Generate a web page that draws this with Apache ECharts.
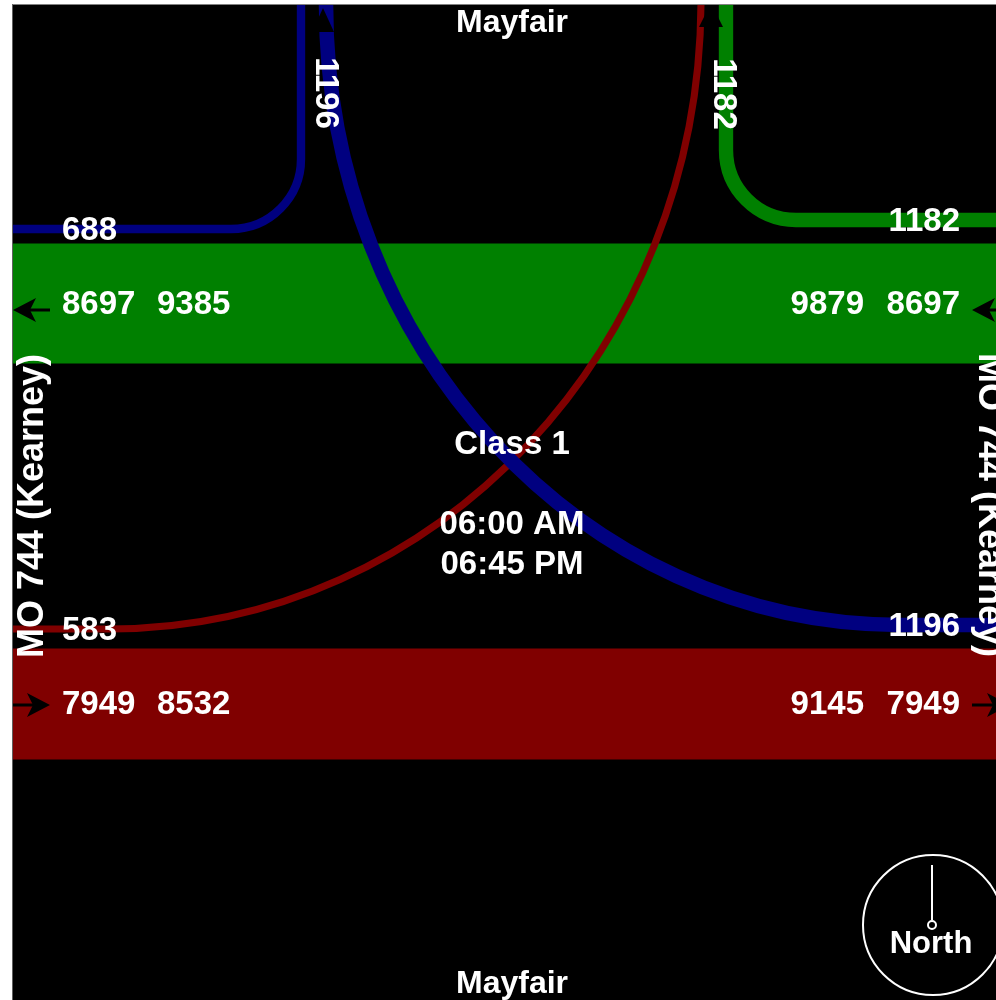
<!DOCTYPE html>
<html>
<head>
<meta charset="utf-8">
<script src="https://cdn.jsdelivr.net/npm/echarts@6/dist/echarts.min.js"></script>
<style>
html,body{margin:0;padding:0;background:#fff;}
#chart{width:996px;height:1000px;}
</style>
</head>
<body>
<div id="chart"></div>
<script>
// ---------------- DATA ----------------
const roadNames = ['Mayfair', 'Mayfair', 'MO 744 (Kearney)', 'MO 744 (Kearney)']; // north, south, west, east
const vehicleClass = 'Class 1';
const timeRange = ['06:00 AM', '06:45 PM'];
// westbound corridor band: [exiting west, total at west end, total at east end, entering from east]
const westboundVolumes = [8697, 9385, 9879, 8697];
// eastbound corridor band: [entering from west, total at west end, total at east end, exiting east]
const eastboundVolumes = [7949, 8532, 9145, 7949];
// turning movements: [WB -> Mayfair N, Mayfair N -> EB east, EB west -> Mayfair N, Mayfair N -> WB east]
const turnVolumes = [688, 1196, 583, 1182];

// ---------------- LAYOUT / STYLE ----------------
const PX_PER_VEH = 0.01214;          // thickness in axis units (axis units == pixels)
const FONT = '"Liberation Sans", Arial, sans-serif';
const NAVY = '#000080', GREEN = '#008000', MAROON = '#800000';
const K = 0.5523;
const TY = 2; // text vertical nudge

const bandGeom = [
  { cy: 303.5, color: GREEN, labelY: 303, arrowY: 310 },
  { cy: 704, color: MAROON, labelY: 703, arrowY: 705 }
];

const turnGeom = [
  { color: NAVY, cmds: [['M',0,229],['L',231,229],['C',231+K*70,229,301,159+K*70,301,159],['L',301,-10]] },
  { color: NAVY, cmds: [['M',326,-10],['L',326,4],['C',326,4+K*621,900-K*574,625,900,625],['L',1010,625]] },
  { color: MAROON, cmds: [['M',0,629],['L',110,629],['C',110+K*591,629,701,K*629,701,0],['L',701,-10]] },
  { color: GREEN, cmds: [['M',726,-10],['L',726,150],['C',726,150+K*70,796-K*70,220,796,220],['L',1010,220]] }
];
const drawOrder = [2, 3, 0, 1];

const turnLabelGeom = [
  [{ x: 62, y: 229, align: 'left' }],
  [{ x: 325, y: 93, align: 'center', rot: -Math.PI / 2 }, { x: 960, y: 625, align: 'right' }],
  [{ x: 62, y: 629, align: 'left' }],
  [{ x: 723, y: 94, align: 'center', rot: -Math.PI / 2 }, { x: 960, y: 220, align: 'right' }]
];
const bandLabelGeom = [
  { x: 62, align: 'left' }, { x: 157, align: 'left' }, { x: 864, align: 'right' }, { x: 960, align: 'right' }
];

function pathFrom(cmds, api) {
  let d = '';
  cmds.forEach(c => {
    d += c[0];
    for (let i = 1; i < c.length; i += 2) {
      const p = api.coord([c[i], c[i + 1]]);
      d += ' ' + p[0].toFixed(2) + ' ' + p[1].toFixed(2);
    }
    d += ' ';
  });
  return d;
}

function txt(x, y, text, align, rot, size) {
  return {
    type: 'text', x: x, y: rot ? y : y + TY, rotation: rot || 0, z2: 50,
    style: { x: 0, y: 0, text: String(text), fill: '#fff', align: align, verticalAlign: 'middle',
      font: 'bold ' + (size || 33) + 'px ' + FONT }
  };
}

function arrowShape(api, tipX, y, dir, tailX) {
  const tip = api.coord([tipX, y]);
  const back = api.coord([tipX - dir * 23, y]);
  const notch = api.coord([tipX - dir * 17, y]);
  const tail = api.coord([tailX, y]);
  return [
    { type: 'line', shape: { x1: notch[0], y1: notch[1], x2: tail[0], y2: tail[1] },
      style: { stroke: '#000', lineWidth: 3 } },
    { type: 'polygon', shape: { points: [[tip[0], tip[1]], [back[0], back[1] - 12], [notch[0], notch[1]], [back[0], back[1] + 12]] },
      style: { fill: '#000' } }
  ];
}

function gtext(x, y, text, size, rot) {
  return { type: 'text', x: x, y: y + (rot ? 0 : TY), rotation: rot || 0, z: 100,
    style: { text: text, fill: '#fff', align: 'center', verticalAlign: 'middle', font: 'bold ' + size + 'px ' + FONT } };
}

const option = {
  animation: false,
  backgroundColor: '#fff',
  grid: { left: 12, top: 4, right: 0, bottom: 0, show: true, backgroundColor: '#000', borderWidth: 0 },
  xAxis: { type: 'value', min: 12, max: 996, show: false },
  yAxis: { type: 'value', min: 4, max: 1000, inverse: true, show: false },
  series: [
    {
      type: 'custom', name: 'bands', clip: true,
      data: [[0, Math.max(...westboundVolumes)], [1, Math.max(...eastboundVolumes)]],
      renderItem: function (params, api) {
        const i = api.value(0), v = api.value(1);
        const g = bandGeom[i];
        const h = api.size([0, v * PX_PER_VEH])[1];
        const a = api.coord([12, g.cy]), b = api.coord([1010, g.cy]);
        return { type: 'rect', shape: { x: a[0], y: a[1] - h / 2, width: b[0] - a[0], height: h }, style: { fill: g.color } };
      }
    },
    {
      type: 'custom', name: 'turns', clip: true,
      data: drawOrder.map(i => [i, turnVolumes[i]]),
      renderItem: function (params, api) {
        const i = api.value(0), v = api.value(1);
        const g = turnGeom[i];
        const w = api.size([0, v * PX_PER_VEH])[1];
        return { type: 'path', shape: { pathData: pathFrom(g.cmds, api) },
          style: { stroke: g.color, lineWidth: w, fill: null, lineCap: 'butt', lineJoin: 'round' } };
      }
    },
    {
      type: 'custom', name: 'arrows', clip: true,
      data: [[0], [1]],
      renderItem: function (params, api) {
        const i = api.value(0);
        const y = bandGeom[i].arrowY;
        let kids;
        if (i === 0) {
          kids = arrowShape(api, 13, y, -1, 50).concat(arrowShape(api, 972, y, -1, 1010));
          const t = api.coord([711, 3]), l = api.coord([699, 27]), r = api.coord([723, 27]);
          kids.push({ type: 'polygon', shape: { points: [t, l, r] }, style: { fill: '#000' } });
        } else {
          kids = arrowShape(api, 50, y, 1, 12).concat(arrowShape(api, 1010, y, 1, 972));
          const t = api.coord([323, 8]), l = api.coord([312, 32]), r = api.coord([334, 32]);
          kids.push({ type: 'polygon', shape: { points: [t, l, r] }, style: { fill: '#000' } });
        }
        return { type: 'group', children: kids };
      }
    },
    {
      type: 'custom', name: 'labels', clip: false,
      data: [[0]],
      renderItem: function (params, api) {
        const kids = [];
        [westboundVolumes, eastboundVolumes].forEach((vals, bi) => {
          vals.forEach((v, j) => {
            const lg = bandLabelGeom[j];
            const p = api.coord([lg.x, bandGeom[bi].labelY]);
            kids.push(txt(p[0], p[1], v, lg.align));
          });
        });
        turnVolumes.forEach((v, i) => {
          turnLabelGeom[i].forEach(lg => {
            const p = api.coord([lg.x, lg.y]);
            kids.push(txt(p[0], p[1], v, lg.align, lg.rot));
          });
        });
        return { type: 'group', children: kids };
      }
    }
  ],
  graphic: [
    { type: 'line', z: 90, shape: { x1: 12, y1: 4.5, x2: 996, y2: 4.5 }, style: { stroke: '#808080', lineWidth: 1 } },
    { type: 'line', z: 90, shape: { x1: 12.5, y1: 4, x2: 12.5, y2: 1000 }, style: { stroke: '#606060', lineWidth: 1 } },
    gtext(512, 21, roadNames[0], 32),
    gtext(512, 982, roadNames[1], 32),
    gtext(33, 506, roadNames[2], 36, Math.PI / 2),
    gtext(989, 505, roadNames[3], 36, -Math.PI / 2),
    gtext(512, 443, vehicleClass, 33),
    gtext(512, 523, timeRange[0], 33),
    gtext(512, 563, timeRange[1], 33),
    { type: 'circle', z: 100, shape: { cx: 933, cy: 925, r: 70 }, style: { stroke: '#fff', fill: null, lineWidth: 2 } },
    { type: 'line', z: 100, shape: { x1: 932, y1: 865, x2: 932, y2: 920 }, style: { stroke: '#fff', lineWidth: 2 } },
    { type: 'circle', z: 100, shape: { cx: 932, cy: 925, r: 4 }, style: { stroke: '#fff', fill: '#000', lineWidth: 2 } },
    gtext(931, 942, 'North', 31)
  ]
};

const chart = echarts.init(document.getElementById('chart'), null, { renderer: 'canvas' });
chart.setOption(option);
</script>
</body>
</html>
